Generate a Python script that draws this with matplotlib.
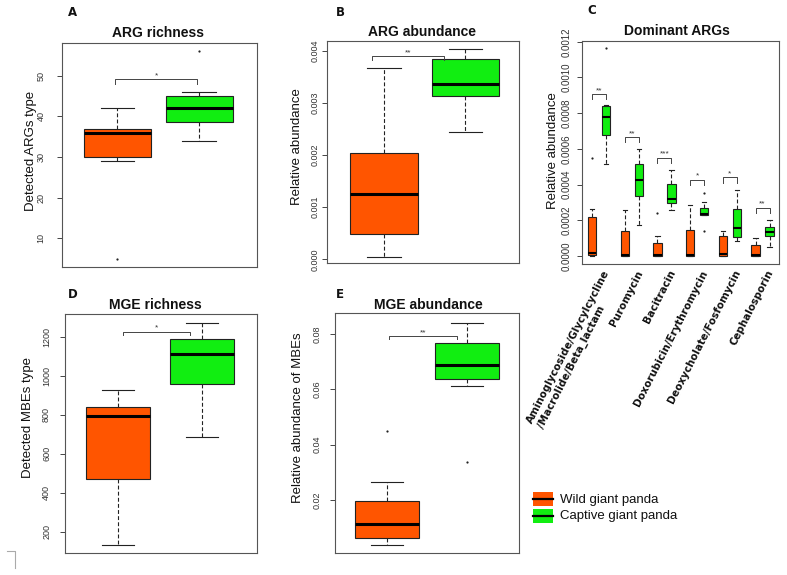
import matplotlib
matplotlib.use('Agg')
import matplotlib.pyplot as plt
from matplotlib.patches import Rectangle
from matplotlib.lines import Line2D

plt.rcParams['font.family'] = ['Liberation Sans', 'DejaVu Sans']

# ---------------- data ----------------
groups = ['Wild giant panda', 'Captive giant panda']

# five-number summaries: [whisker low, Q1, median, Q3, whisker high]
A_wild = [29, 30, 36, 37, 42]
A_wild_out = [5]
A_capt = [34, 38.5, 42, 45, 46]
A_capt_out = [56]

B_wild = [0.00004, 0.00048, 0.00126, 0.00203, 0.00367]
B_wild_out = []
B_capt = [0.00244, 0.00313, 0.00337, 0.00385, 0.00403]
B_capt_out = []

D_wild = [132, 472, 792, 840, 927]
D_wild_out = []
D_capt = [686, 956, 1111, 1186, 1269]
D_capt_out = []

E_wild = [0.0037, 0.0062, 0.0112, 0.0195, 0.0266]
E_wild_out = [0.0449]
E_capt = [0.0611, 0.0637, 0.0687, 0.0769, 0.0839]
E_capt_out = [0.0336]

C_categories = ['Aminoglycoside/Glycylcycline\n/Macrolide/Beta_lactam', 'Puromycin', 'Bacitracin',
                'Doxorubicin/Erythromycin', 'Deoxycholate/Fosfomycin', 'Cephalosporin']
C_wild = [
    [0.0, 0.0000056, 0.000015, 0.000220, 0.000262],
    [0.0, 0.000002, 0.0000056, 0.000141, 0.000257],
    [0.0, 0.000002, 0.0000056, 0.0000726, 0.000110],
    [0.0, 0.000002, 0.0000056, 0.000147, 0.000288],
    [0.0, 0.000002, 0.0000093, 0.000113, 0.000141],
    [0.0, 0.000002, 0.0000056, 0.0000633, 0.0000986],
]
C_wild_out = [[0.000549], [], [0.000240], [], [], []]
C_capt = [
    [0.000517, 0.000675, 0.000780, 0.000843, 0.000848],
    [0.000173, 0.000335, 0.000424, 0.000515, 0.000600],
    [0.000259, 0.000298, 0.000318, 0.000406, 0.000484],
    [0.000229, 0.000229, 0.000233, 0.000270, 0.000303],
    [0.0000837, 0.000104, 0.000156, 0.000262, 0.000367],
    [0.000050, 0.000112, 0.000136, 0.000162, 0.000199],
]
C_capt_out = [[0.001163], [], [], [0.000355, 0.000141], [], []]
C_sig_y = [0.000908, 0.000666, 0.000551, 0.000428, 0.000441, 0.000270]
C_sig = ['**', '**', '***', '*', '*', '**']

A_sig = ('*', 49.1, 0.97, 1.975)
B_sig = ('**', 0.00390, 0.856, 1.737)
D_sig = ('*', 1226, 1.056, 1.857)
E_sig = ('**', 0.0793, 1.02, 1.87)

# ---------------- layout ----------------
W, H = 787, 575
fig = plt.figure(figsize=(W / 100, H / 100), dpi=100)
WILD = '#FF5500'
CAPT = '#11EE11'

ov = fig.add_axes([0, 0, 1, 1])
ov.set_xlim(0, W)
ov.set_ylim(H, 0)
ov.axis('off')


def add_ax(x0, y0, x1, y1):
    return fig.add_axes([x0 / W, 1 - y1 / H, (x1 - x0) / W, (y1 - y0) / H])


def st(five, fl):
    return dict(whislo=five[0], q1=five[1], med=five[2], q3=five[3], whishi=five[4], fliers=fl)


def draw_box(ax, stats, positions, colors, width, medlw):
    bp = ax.bxp(stats, positions=positions, widths=width, capwidths=width * 0.5,
                patch_artist=True, showfliers=True,
                boxprops=dict(edgecolor='#222222', linewidth=0.8),
                medianprops=dict(color='black', linewidth=medlw, solid_capstyle='butt'),
                whiskerprops=dict(color='#222222', linewidth=0.8, linestyle=(0, (3.5, 2))),
                capprops=dict(color='#222222', linewidth=0.8),
                flierprops=dict(marker='o', markersize=1.6, markerfacecolor='#222222',
                                markeredgecolor='none'))
    for p, c in zip(bp['boxes'], colors):
        p.set_facecolor(c)


def style(ax, xlim, ylim, yticks, fmt, fs, pad):
    ax.set_xlim(xlim)
    ax.set_ylim(ylim)
    ax.set_xticks([])
    ax.set_yticks(yticks)
    ax.set_yticklabels([fmt.format(v) for v in yticks], rotation=90, va='center',
                       fontsize=fs, color='#333333')
    ax.tick_params(axis='y', length=3.5, width=0.7, color='#444444', pad=pad)
    for s in ax.spines.values():
        s.set_color('#555555')
        s.set_linewidth(0.8)


def bracket(ax, sig, depth):
    lab, y, xa, xb = sig
    ax.plot([xa, xa, xb, xb], [y - depth, y, y, y - depth], color='#444444', lw=0.7)
    ax.text((xa + xb) / 2, y, lab, ha='center', va='bottom', fontsize=6, color='#333333')


# Panel A
axA = add_ax(62, 43, 257, 267)
draw_box(axA, [st(A_wild, A_wild_out), st(A_capt, A_capt_out)], [1, 2], [WILD, CAPT], 0.82, 2.2)
style(axA, (0.32, 2.71), (2.96, 58.04), [10, 20, 30, 40, 50], '{:.0f}', 6.5, 8.5)
bracket(axA, A_sig, 1.1)

# Panel B
axB = add_ax(326.7, 41.3, 519.3, 263.3)
draw_box(axB, [st(B_wild, B_wild_out), st(B_capt, B_capt_out)], [1, 2], [WILD, CAPT], 0.83, 2.2)
style(axB, (0.30, 2.66), (-0.0000767, 0.00418), [0, 0.001, 0.002, 0.003, 0.004], '{:.3f}', 6.5, 1.5)
bracket(axB, B_sig, 0.000085)

# Panel D
axD = add_ax(65, 314.3, 256.7, 553.3)
draw_box(axD, [st(D_wild, D_wild_out), st(D_capt, D_capt_out)], [1, 2], [WILD, CAPT], 0.76, 2.2)
style(axD, (0.37, 2.65), (89, 1315), [200, 400, 600, 800, 1000, 1200], '{:.0f}', 6.5, 6.5)
bracket(axD, D_sig, 18)

# Panel E
axE = add_ax(335, 313.3, 519.3, 553.3)
draw_box(axE, [st(E_wild, E_wild_out), st(E_capt, E_capt_out)], [1, 2], [WILD, CAPT], 0.8, 2.2)
style(axE, (0.344, 2.65), (0.00074, 0.0875), [0.02, 0.04, 0.06, 0.08], '{:.2f}', 6.5, 6)
bracket(axE, E_sig, 0.0012)

# Panel C
axC = add_ax(581.7, 40.7, 779.3, 264.3)
n = len(C_categories)
off = 0.214
stats_c, pos_c, col_c = [], [], []
for i in range(n):
    stats_c += [st(C_wild[i], C_wild_out[i]), st(C_capt[i], C_capt_out[i])]
    pos_c += [i - off, i + off]
    col_c += [WILD, CAPT]
draw_box(axC, stats_c, pos_c, col_c, 0.26, 1.5)
style(axC, (-0.53, 5.51), (-0.0000465, 0.001206),
      [0, 0.0002, 0.0004, 0.0006, 0.0008, 0.0010, 0.0012], '{:.4f}', 7, 3.5)
for i in range(n):
    bracket(axC, (C_sig[i], C_sig_y[i], i - off, i + off), 0.00003)
for i, lab in enumerate(C_categories):
    axC.annotate(lab, xy=(i + 0.12, 0), xycoords=('data', 'axes fraction'),
                 xytext=(0, -3), textcoords='offset points',
                 rotation=63, rotation_mode='anchor', ha='right', va='top',
                 multialignment='left', fontsize=7.4, fontweight='bold',
                 family='DejaVu Sans', color='#111111', annotation_clip=False)

# titles, labels, letters
titles = [(157.7, 33, 'ARG richness'), (421.7, 32, 'ARG abundance'), (677.3, 31, 'Dominant ARGs'),
          (155.8, 305, 'MGE richness'), (428, 305, 'MGE abundance')]
for x, y, t in titles:
    ov.text(x, y, t, ha='center', va='center', fontsize=10, fontweight='bold', color='#111111')

ylabels = [(30.7, 151, 'Detected ARGs type'), (296.7, 147, 'Relative abundance'),
           (553.3, 151, 'Relative abundance'), (28.3, 417.5, 'Detected MBEs type'),
           (298.3, 417.5, 'Relative abundance of MBEs')]
for x, y, t in ylabels:
    ov.text(x, y, t, ha='center', va='center', rotation=90, fontsize=9.5, color='#111111')

letters = [(73, 12, 'A'), (340, 12, 'B'), (592, 11, 'C'), (73, 295, 'D'), (340, 295, 'E')]
for x, y, t in letters:
    ov.text(x, y, t, ha='center', va='center', fontsize=8.5, fontweight='heavy',
            family='DejaVu Sans', color='#111111')

# legend
leg_y = [499, 516]
for (yc, col, lab) in zip(leg_y, [WILD, CAPT], groups):
    ov.add_patch(Rectangle((533.3, yc - 6.7), 19.4, 13.4, facecolor=col, edgecolor='none'))
    ov.add_line(Line2D([533.3, 552.7], [yc, yc], color='black', lw=1.6))
    ov.text(560, yc + 0.5, lab, ha='left', va='center', fontsize=9.5, color='#111111')

# small corner mark
ov.add_line(Line2D([6.7, 15, 15], [551, 551, 568], color='#aaaaaa', lw=0.8))

fig.savefig('out.png', dpi=100)
